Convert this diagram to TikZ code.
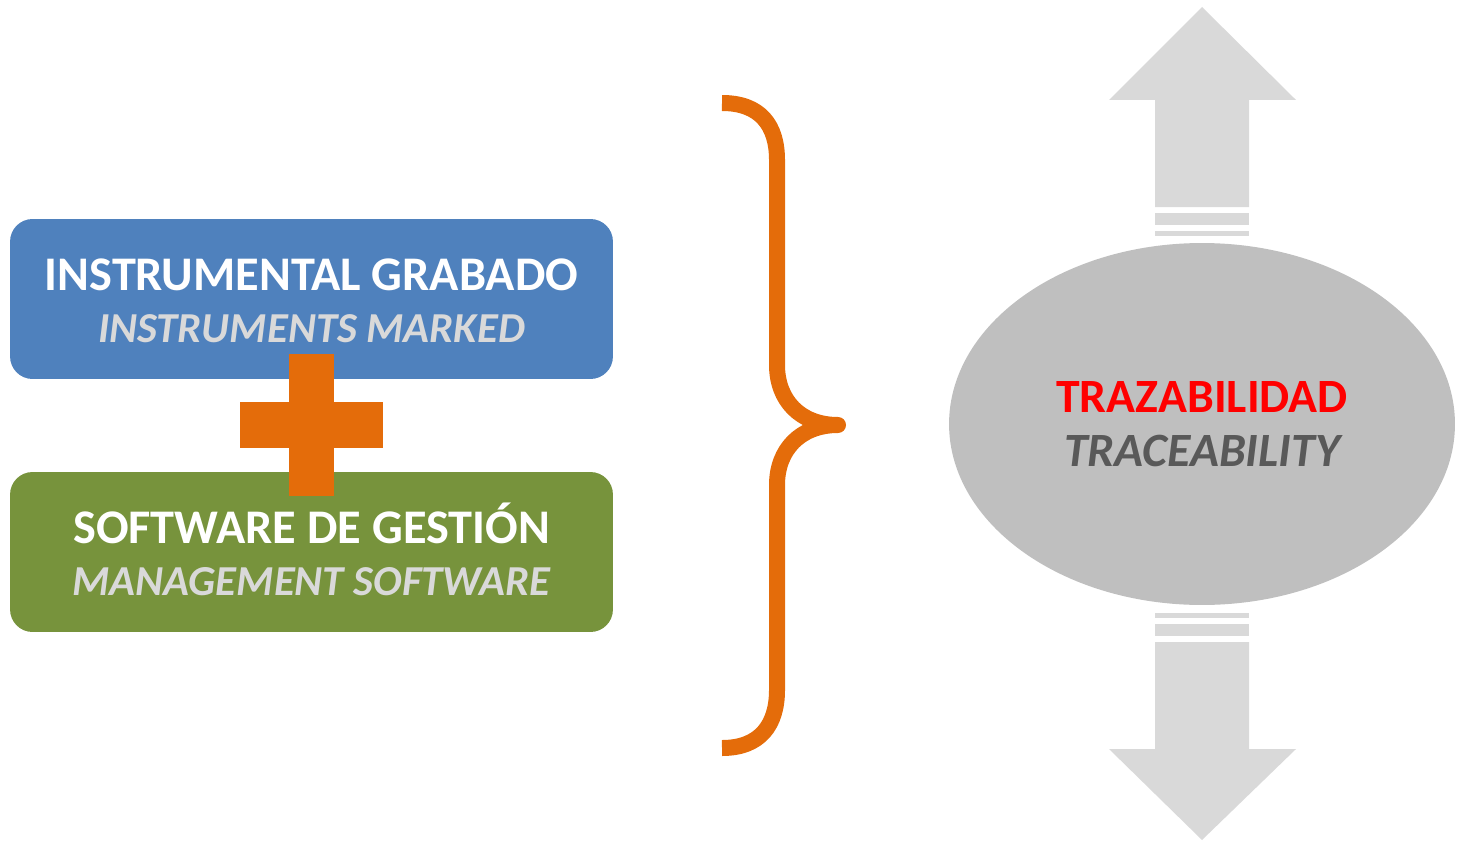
\documentclass[tikz,border=0pt]{standalone}
\usepackage{fontspec}
\setmainfont{Carlito}
\usetikzlibrary{shapes.geometric}
\definecolor{boxblue}{HTML}{4F81BD}
\definecolor{boxgreen}{HTML}{77933C}
\definecolor{plusorange}{HTML}{E46C0A}
\definecolor{ovalgray}{HTML}{BFBFBF}
\definecolor{arrowgray}{HTML}{D9D9D9}
\definecolor{engray}{HTML}{D9D9D9}
\definecolor{endark}{HTML}{595959}
\newcommand{\entext}[1]{\textcolor{engray}{\fontsize{24.3}{29.5}\selectfont\itshape #1}}
\tikzset{
    box/.style={rectangle, rounded corners=0.45cm, minimum width=12.06cm, minimum height=3.2cm,
        inner sep=0pt},
    boxtext/.style={inner sep=0pt, align=center, font=\fontsize{27.5}{29.5}\selectfont\bfseries},
    oval/.style={ellipse, fill=ovalgray, minimum width=10.12cm, minimum height=7.24cm,
        inner sep=0pt, align=center, font=\fontsize{27.2}{31}\selectfont\bfseries},
    bigarrow/.style={fill=arrowgray},
}
\begin{document}
\begin{tikzpicture}[x=0.02cm, y=-0.02cm]
            \useasboundingbox (0,0) rectangle (1459,841);
            % left boxes
            \node[box, fill=boxblue] (instr) at (311.5,299) {};
            \node[boxtext] (instrtxt) at ([yshift=-0.03cm]instr.center)
                {\textcolor{white}{INSTRUMENTAL GRABADO}\\ \entext{INSTRUMENTS MARKED}};
            \node[box, fill=boxgreen] (soft) at (311.5,552) {};
            \node[boxtext] (softtxt) at ([yshift=0.05cm]soft.center)
                {\textcolor{white}{SOFTWARE DE GESTIÓN}\\ \entext{MANAGEMENT SOFTWARE}};
            \fill[plusorange] (289,354) rectangle (334,496);
            \fill[plusorange] (240,402) rectangle (383,448);
            % brace
            \draw[plusorange, line width=0.32cm, line join=round]
                (722,103) .. controls (760,103) and (777,125) .. (777,160) -- (777,365)
                .. controls (777,400) and (800,425) .. (838,425)
                .. controls (800,425) and (777,450) .. (777,485) -- (777,690)
                .. controls (777,725) and (760,748) .. (722,748);
            % arrows
            \fill[bigarrow] (1202,7) -- (1296,100) -- (1249,100) -- (1249,207) -- (1155,207)
                -- (1155,100) -- (1109,100) -- cycle;
            \fill[bigarrow] (1155,213) rectangle (1249,225);
            \fill[bigarrow] (1155,231) rectangle (1249,236);
            \fill[bigarrow] (1202,840) -- (1296,749) -- (1249,749) -- (1249,642) -- (1155,642)
                -- (1155,749) -- (1109,749) -- cycle;
            \fill[bigarrow] (1155,624) rectangle (1249,636);
            \fill[bigarrow] (1155,613) rectangle (1249,618);
            % result
            \node[oval] (trace) at (1202,424)
                {\textcolor{red}{TRAZABILIDAD}\\ \textcolor{endark}{\itshape TRACEABILITY}};
        \end{tikzpicture}
\end{document}
